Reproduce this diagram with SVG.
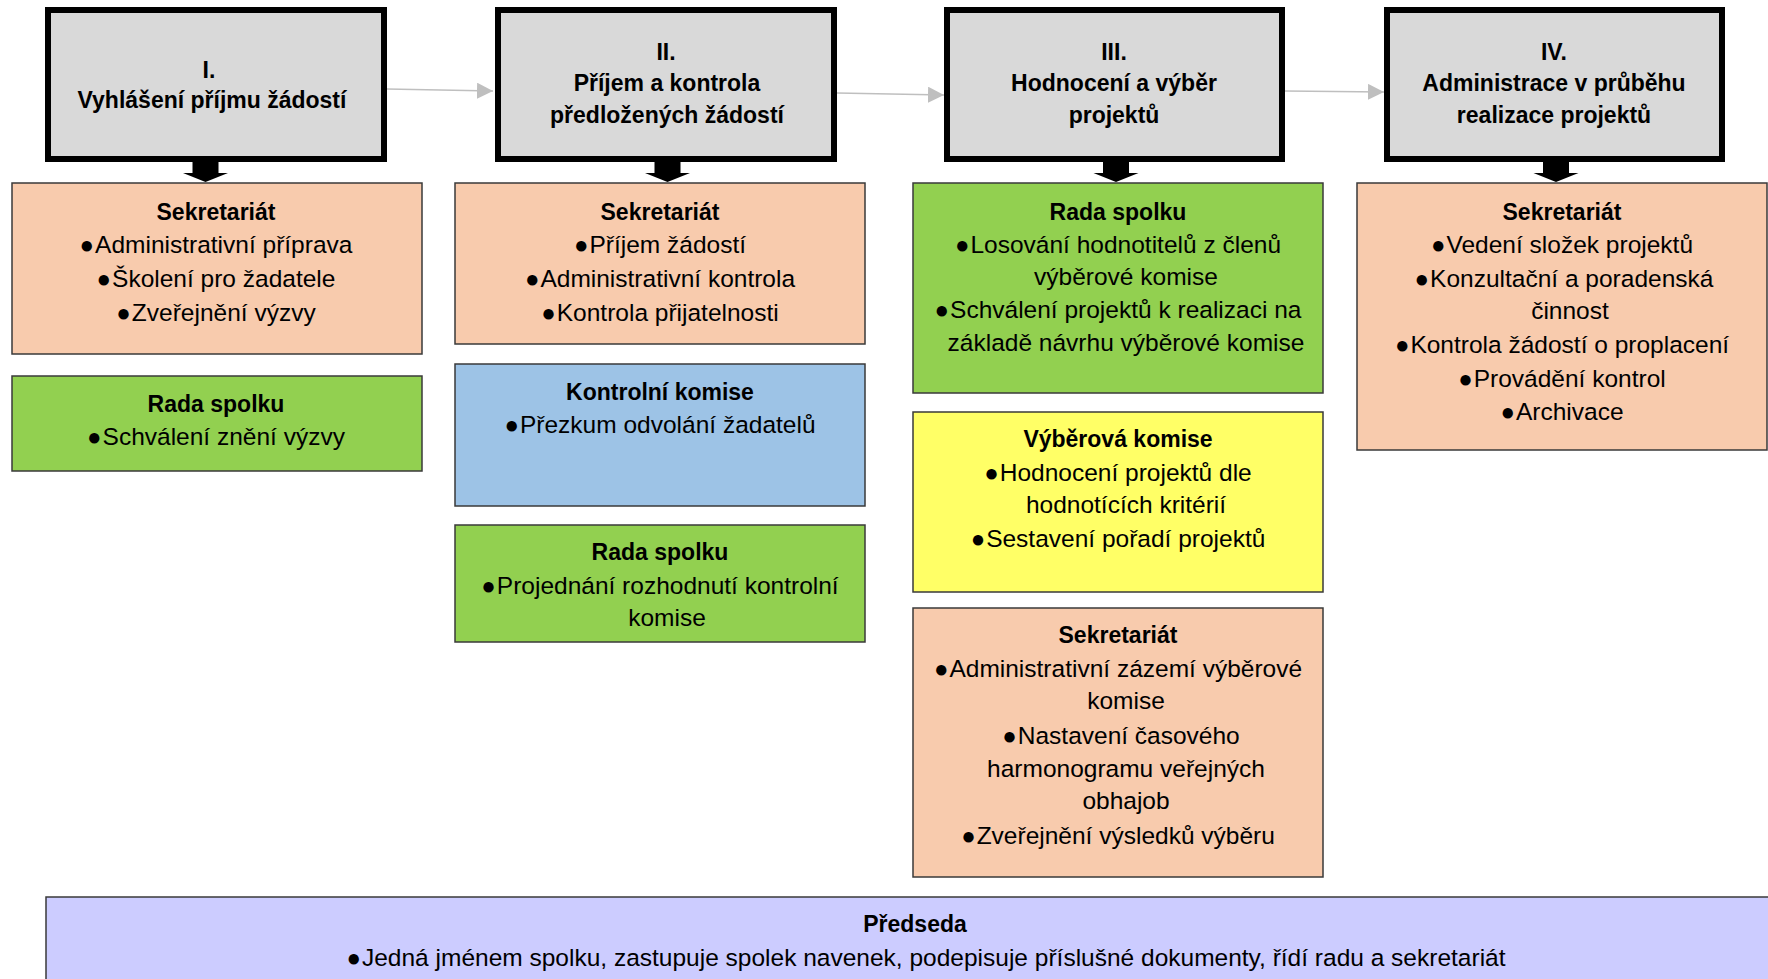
<svg xmlns="http://www.w3.org/2000/svg" width="1768" height="979" viewBox="0 0 1768 979">
<style>
.hdr{fill:#d9d9d9;stroke:#000;stroke-width:6}
.box{stroke:#3a3a3a;stroke-width:1.5}
.sal{fill:#f8cbad}.grn{fill:#92d050}.blu{fill:#9dc3e6}.yel{fill:#ffff66}.lav{fill:#ccccff}
text{font-family:"Liberation Sans",Arial,sans-serif;fill:#000;text-anchor:middle}
.ht{font-size:23px;font-weight:bold}
.t{font-size:23px;font-weight:bold}
.b{font-size:24.5px}
.bl{font-size:24px}
.conn{stroke:#bfbfbf;stroke-width:1.5;fill:none}
.dn{fill:#000}
</style>
<defs>
<marker id="ah" markerUnits="userSpaceOnUse" markerWidth="18" markerHeight="16" refX="16" refY="8" orient="auto">
<path d="M0,0 L16,8 L0,16 Z" fill="#bfbfbf"/>
</marker>
<path id="downArrow" d="M-13,0 H13 V11 H22.5 L0,20 L-22.5,11 H-13 Z"/>
</defs>

<g id="connectors">
<line class="conn" x1="387" y1="89" x2="493" y2="91" marker-end="url(#ah)"/>
<line class="conn" x1="837" y1="93" x2="944" y2="95" marker-end="url(#ah)"/>
<line class="conn" x1="1285" y1="91" x2="1384" y2="92" marker-end="url(#ah)"/>
<use href="#downArrow" class="dn" x="205.5" y="162"/>
<use href="#downArrow" class="dn" x="667.5" y="162"/>
<use href="#downArrow" class="dn" x="1116" y="162"/>
<use href="#downArrow" class="dn" x="1556" y="162"/>
</g>

<g id="phase1">
<rect class="hdr" x="48" y="10" width="336" height="149"/>
<text class="ht" x="209" y="78">I.</text>
<text class="ht" x="212" y="108">Vyhlášení příjmu žádostí</text>
</g>
<g id="phase2">
<rect class="hdr" x="498" y="10" width="336" height="149"/>
<text class="ht" x="666" y="60">II.</text>
<text class="ht" x="667" y="91">Příjem a kontrola</text>
<text class="ht" x="667" y="123">předložených žádostí</text>
</g>
<g id="phase3">
<rect class="hdr" x="947" y="10" width="335" height="149"/>
<text class="ht" x="1114" y="60">III.</text>
<text class="ht" x="1114" y="91">Hodnocení a výběr</text>
<text class="ht" x="1114" y="123">projektů</text>
</g>
<g id="phase4">
<rect class="hdr" x="1387" y="10" width="335" height="149"/>
<text class="ht" x="1554" y="60">IV.</text>
<text class="ht" x="1554" y="91">Administrace v průběhu</text>
<text class="ht" x="1554" y="123">realizace projektů</text>
</g>

<g id="c1-sekretariat">
<rect class="box sal" x="12" y="183" width="410" height="171"/>
<text class="t" x="216" y="220">Sekretariát</text>
<text class="b" x="216" y="253"><tspan class="bl">●</tspan><tspan dx="1">Administrativní příprava</tspan></text>
<text class="b" x="216" y="287"><tspan class="bl">●</tspan><tspan dx="1">Školení pro žadatele</tspan></text>
<text class="b" x="216" y="321"><tspan class="bl">●</tspan><tspan dx="1">Zveřejnění výzvy</tspan></text>
</g>
<g id="c1-rada">
<rect class="box grn" x="12" y="376" width="410" height="95"/>
<text class="t" x="216" y="412">Rada spolku</text>
<text class="b" x="216" y="445"><tspan class="bl">●</tspan><tspan dx="1">Schválení znění výzvy</tspan></text>
</g>

<g id="c2-sekretariat">
<rect class="box sal" x="455" y="183" width="410" height="161"/>
<text class="t" x="660" y="220">Sekretariát</text>
<text class="b" x="660" y="253"><tspan class="bl">●</tspan><tspan dx="1">Příjem žádostí</tspan></text>
<text class="b" x="660" y="287"><tspan class="bl">●</tspan><tspan dx="1">Administrativní kontrola</tspan></text>
<text class="b" x="660" y="321"><tspan class="bl">●</tspan><tspan dx="1">Kontrola přijatelnosti</tspan></text>
</g>
<g id="c2-kontrolni">
<rect class="box blu" x="455" y="364" width="410" height="142"/>
<text class="t" x="660" y="400">Kontrolní komise</text>
<text class="b" x="660" y="433"><tspan class="bl">●</tspan><tspan dx="1">Přezkum odvolání žadatelů</tspan></text>
</g>
<g id="c2-rada">
<rect class="box grn" x="455" y="525" width="410" height="117"/>
<text class="t" x="660" y="560">Rada spolku</text>
<text class="b" x="660" y="594"><tspan class="bl">●</tspan><tspan dx="1">Projednání rozhodnutí kontrolní</tspan></text>
<text class="b" x="667" y="626">komise</text>
</g>

<g id="c3-rada">
<rect class="box grn" x="913" y="183" width="410" height="210"/>
<text class="t" x="1118" y="220">Rada spolku</text>
<text class="b" x="1118" y="253"><tspan class="bl">●</tspan><tspan dx="1">Losování hodnotitelů z členů</tspan></text>
<text class="b" x="1126" y="285">výběrové komise</text>
<text class="b" x="1118" y="318"><tspan class="bl">●</tspan><tspan dx="1">Schválení projektů k realizaci na</tspan></text>
<text class="b" x="1126" y="351">základě návrhu výběrové komise</text>
</g>
<g id="c3-vyberova">
<rect class="box yel" x="913" y="412" width="410" height="180"/>
<text class="t" x="1118" y="447">Výběrová komise</text>
<text class="b" x="1118" y="481"><tspan class="bl">●</tspan><tspan dx="1">Hodnocení projektů dle</tspan></text>
<text class="b" x="1126" y="513">hodnotících kritérií</text>
<text class="b" x="1118" y="547"><tspan class="bl">●</tspan><tspan dx="1">Sestavení pořadí projektů</tspan></text>
</g>
<g id="c3-sekretariat">
<rect class="box sal" x="913" y="608" width="410" height="269"/>
<text class="t" x="1118" y="643">Sekretariát</text>
<text class="b" x="1118" y="677"><tspan class="bl">●</tspan><tspan dx="1">Administrativní zázemí výběrové</tspan></text>
<text class="b" x="1126" y="709">komise</text>
<text class="b" x="1121" y="744"><tspan class="bl">●</tspan><tspan dx="1">Nastavení časového</tspan></text>
<text class="b" x="1126" y="777">harmonogramu veřejných</text>
<text class="b" x="1126" y="809">obhajob</text>
<text class="b" x="1118" y="844"><tspan class="bl">●</tspan><tspan dx="1">Zveřejnění výsledků výběru</tspan></text>
</g>

<g id="c4-sekretariat">
<rect class="box sal" x="1357" y="183" width="410" height="267"/>
<text class="t" x="1562" y="220">Sekretariát</text>
<text class="b" x="1562" y="253"><tspan class="bl">●</tspan><tspan dx="1">Vedení složek projektů</tspan></text>
<text class="b" x="1564" y="287"><tspan class="bl">●</tspan><tspan dx="1">Konzultační a poradenská</tspan></text>
<text class="b" x="1570" y="319">činnost</text>
<text class="b" x="1562" y="353"><tspan class="bl">●</tspan><tspan dx="1">Kontrola žádostí o proplacení</tspan></text>
<text class="b" x="1562" y="387"><tspan class="bl">●</tspan><tspan dx="1">Provádění kontrol</tspan></text>
<text class="b" x="1562" y="420"><tspan class="bl">●</tspan><tspan dx="1">Archivace</tspan></text>
</g>

<g id="predseda">
<rect class="box lav" x="46" y="897" width="1740" height="100"/>
<text class="t" x="915" y="932">Předseda</text>
<text class="b" x="926" y="966"><tspan class="bl">●</tspan><tspan dx="1">Jedná jménem spolku, zastupuje spolek navenek, podepisuje příslušné dokumenty, řídí radu a sekretariát</tspan></text>
</g>
</svg>
